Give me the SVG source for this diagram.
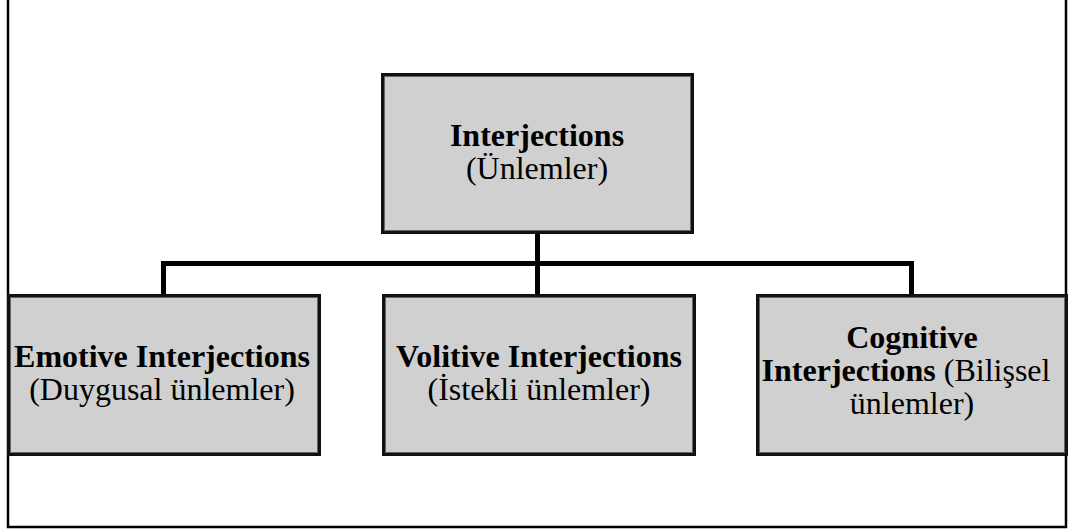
<svg xmlns="http://www.w3.org/2000/svg" width="1070" height="531" viewBox="0 0 1070 531">
<style>
.box{fill:#d0d0d0;stroke:#111;stroke-width:3}
.inner{fill:none;stroke:#666;stroke-width:1}
.conn{stroke:#000;stroke-width:5;fill:none;stroke-linecap:square}
text{font-family:"Liberation Serif","Times New Roman",serif;font-size:32px;fill:#000;text-anchor:middle}
.b{font-weight:bold}
</style>
<rect x="0" y="0" width="1070" height="531" fill="#fff"/>
<path d="M8,-5 V527 H1066 V-5" fill="none" stroke="#000" stroke-width="2.5"/>
<g id="connectors">
<path class="conn" d="M537.5,235 V263.5 M163.5,263.5 H911.5 M163.5,263.5 V294 M537.5,263.5 V294 M911.5,263.5 V294"/>
</g>
<g id="root">
<rect class="box" x="382.5" y="74.5" width="310" height="158"/>
<rect class="inner" x="384.5" y="76.5" width="306" height="154"/>
<text x="537" y="146" class="b">Interjections</text>
<text x="537" y="179">(Ünlemler)</text>
</g>
<g id="emotive">
<rect class="box" x="8.5" y="295.5" width="311" height="159"/>
<rect class="inner" x="10.5" y="297.5" width="307" height="155"/>
<text x="162" y="367" class="b">Emotive Interjections</text>
<text x="162" y="400">(Duygusal ünlemler)</text>
</g>
<g id="volitive">
<rect class="box" x="383.5" y="295.5" width="311" height="159"/>
<rect class="inner" x="385.5" y="297.5" width="307" height="155"/>
<text x="539" y="367" class="b">Volitive Interjections</text>
<text x="539" y="400">(İstekli ünlemler)</text>
</g>
<g id="cognitive">
<rect class="box" x="757.5" y="295.5" width="309" height="159"/>
<rect class="inner" x="759.5" y="297.5" width="305" height="155"/>
<text x="912" y="348" class="b">Cognitive</text>
<text x="906" y="381"><tspan class="b">Interjections</tspan> (Bilişsel</text>
<text x="912" y="414">ünlemler)</text>
</g>
</svg>
